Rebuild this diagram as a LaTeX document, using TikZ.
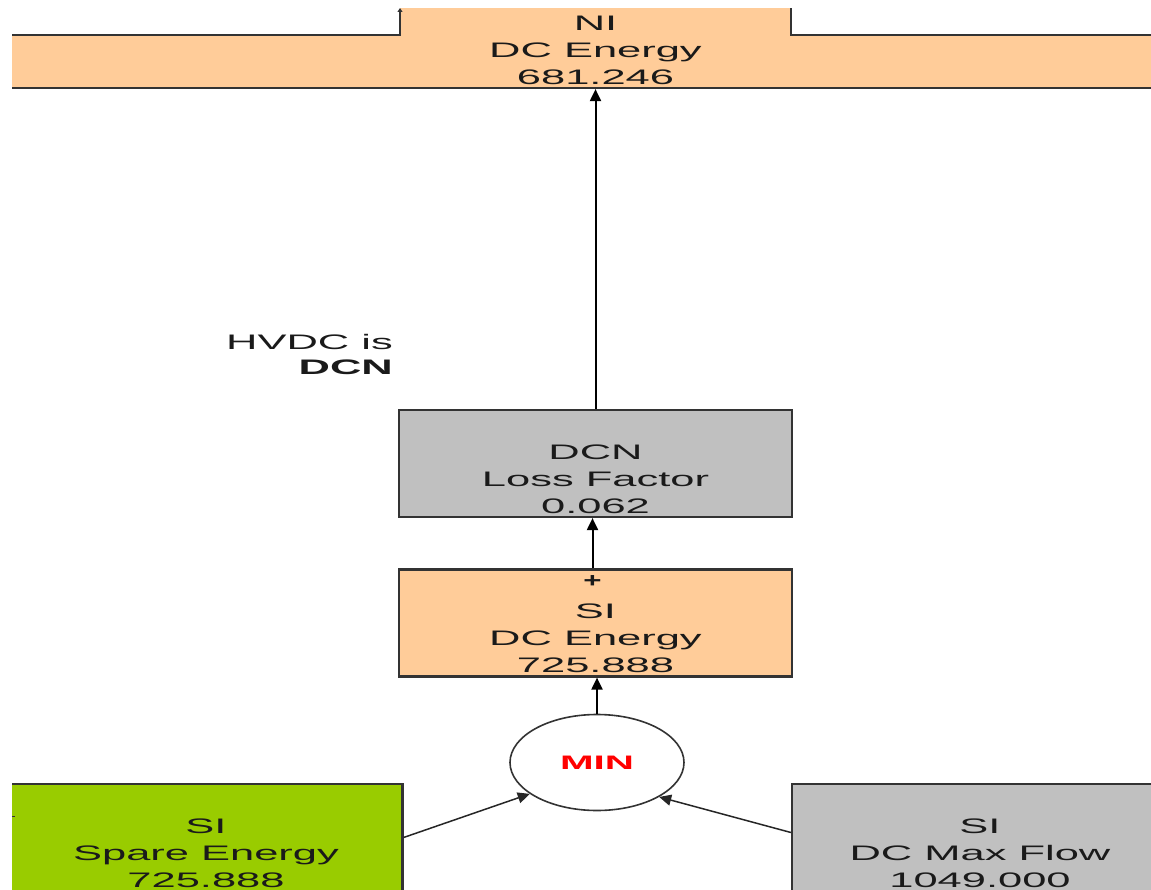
\documentclass[tikz,border=0pt]{standalone}
\usepackage{fontspec}
\setmainfont{Liberation Sans}
\usetikzlibrary{shapes.geometric,arrows.meta}
\definecolor{peach}{HTML}{FFCC99}
\definecolor{silver}{HTML}{C0C0C0}
\definecolor{lime}{HTML}{99CC00}
\definecolor{edge}{HTML}{333333}
\definecolor{ink}{HTML}{1A1A1A}
\definecolor{minred}{HTML}{FF0000}
% wide, flat lettering used throughout the chart
\newcommand{\stretched}[1]{\scalebox{2.07}[1]{#1}}
\newcommand{\plusmark}{\hspace*{-6pt}{\fontsize{24}{24}\selectfont\bfseries\scalebox{1.3}[0.85]{+}}}
% empty indicator row above the three text rows
\newcommand{\toprow}{\rule{0pt}{19pt}}
\tikzset{
  block/.style={rectangle, draw=edge, line width=2.2pt, minimum width=393pt,
    minimum height=107pt, inner sep=0pt, align=center, text=ink,
    font=\fontsize{21}{27}\selectfont},
  link/.style={draw=black, line width=2pt, -{Triangle[length=12pt,width=11pt]}},
  slant/.style={draw=black!85, line width=1.5pt, -{Triangle[length=12pt,width=11pt]}},
  note/.style={align=right, font=\fontsize{21}{25}\selectfont, inner sep=0pt, text=ink},
}
\begin{document}
\begin{tikzpicture}[x=1pt,y=-1pt]
\useasboundingbox (0,0) rectangle (1151,890);

\begin{scope}
  \clip (12,9) rectangle (1151,890);

  % NI output panel: raised tab over a full-width band
  \fill[peach] (0,35) -- (400,35) -- (400,0) -- (791,0) -- (791,35)
    -- (1160,35) -- (1160,88) -- (0,88) -- cycle;
  \draw[edge, line width=2.2pt] (0,35) -- (400,35) -- (400,20);
  \draw[edge, line width=2.2pt] (791,0) -- (791,35) -- (1160,35);
  \draw[edge, line width=2.2pt] (0,88) -- (1160,88);
  \node[block, draw=none] (ni) at (595.5,34.5)
    {\toprow\\\stretched{NI}\\\stretched{DC Energy}\\\stretched{681.246}};

  % loss factor
  \node[block, fill=silver] (dcn) at (595.5,463.5)
    {\toprow\\\stretched{DCN}\\\stretched{Loss Factor}\\\stretched{0.062}};

  % summed energy
  \node[block, fill=peach] (sidc) at (595.5,623)
    {\rule{0pt}{14.5pt}\plusmark\\[3.5pt]\stretched{SI}\\\stretched{DC Energy}\\\stretched{725.888}};

  % minimum operator
  \node[ellipse, draw=edge, line width=1.6pt, fill=white, minimum width=174pt,
    minimum height=96pt, inner sep=0pt,
    font=\fontsize{19.5}{21}\selectfont\bfseries, text=minred]
    (min) at (597,762.5) {\stretched{MIN}};

  % inputs
  \node[block, fill=lime] (spare) at (206,837.5)
    {\toprow\\\stretched{SI}\\\stretched{Spare Energy}\\\stretched{725.888}};
  \node[block, fill=silver, minimum width=376pt] (maxflow) at (980,837.5)
    {\toprow\\\stretched{SI}\\\stretched{DC Max Flow}\\\stretched{1049.000}};

  % flow connectors
  \draw[link] (dcn.north) -- (ni.south);
  \draw[link] ([xshift=-3pt]sidc.north) -- ([xshift=-3pt]dcn.south);
  \draw[link] (min.north) -- (min.north |- sidc.south);
  \draw[slant] (spare.east) -- (min.205);
  \draw[slant] ([yshift=5pt]maxflow.west) -- (min.-29);

  % stub at the left edge
  \coordinate (stub) at (15,816);
  \draw[edge, line width=1pt] (12,816) -- (stub);
\end{scope}

% incoming connector tip at the top of the tab
\coordinate (tabfoot) at (400,22);
\coordinate (tabtop) at (400,8);
\draw[edge, line width=2pt, -{Triangle[length=4pt,width=5pt]}] (tabfoot) -- (tabtop);

% caption
\node[note, anchor=east] (hvdc) at (393,354.5)
  {\stretched{HVDC is}\\\stretched{\bfseries DCN}};
\end{tikzpicture}
\end{document}
